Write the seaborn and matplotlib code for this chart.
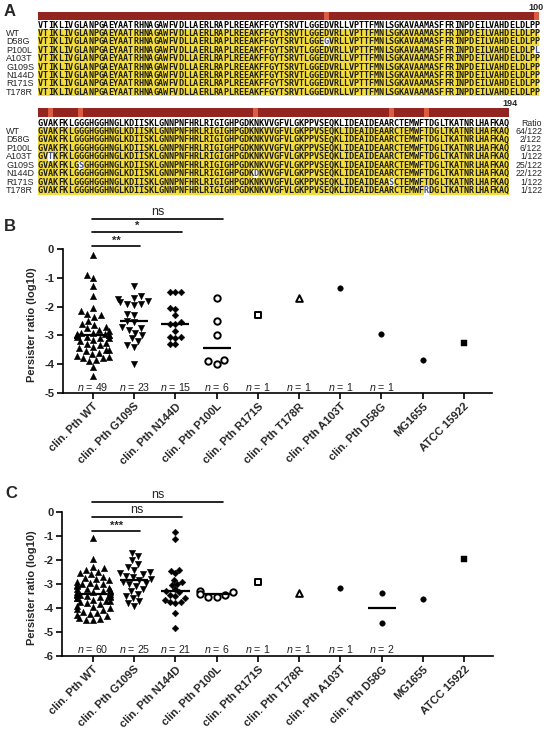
import numpy as np
import matplotlib
matplotlib.use("Agg")
import matplotlib.pyplot as plt
import seaborn as sns
from matplotlib.colors import ListedColormap, LinearSegmentedColormap

sns.set_theme(style="white")
plt.rcParams["font.family"] = ["Liberation Sans", "DejaVu Sans"]
plt.rcParams["mathtext.fontset"] = "custom"
plt.rcParams["mathtext.it"] = "Liberation Sans:italic"
plt.rcParams["mathtext.rm"] = "Liberation Sans"

# ---------------- DATA ----------------
seq_block1 = "VTIKLIVGLANPGAEYAATRHNAGAWFVDLLAERLRAPLREEAKFFGYTSRVTLGGEDVRLLVPTTFMNLSGKAVAAMASFFRINPDEILVAHDELDLPP"
seq_block2 = "GVAKFKLGGGHGGHNGLKDIISKLGNNPNFHRLRIGIGHPGDKNKVVGFVLGKPPVSEQKLIDEAIDEAARCTEMWFTDGLTKATNRLHAFKAQ"
variants = ["WT", "D58G", "P100L", "A103T", "G109S", "N144D", "R171S", "T178R"]
ratios = ["64/122", "2/122", "6/122", "1/122", "25/122", "22/122", "1/122", "1/122"]

categories = ["clin. Pth WT", "clin. Pth G109S", "clin. Pth N144D", "clin. Pth P100L",
              "clin. Pth R171S", "clin. Pth T178R", "clin. Pth A103T", "clin. Pth D58G",
              "MG1655", "ATCC 15922"]
n_labelled = 8

b_wt = [-0.2, -0.9, -1.0, -1.3, -1.65, -2.05, -2.15, -2.25, -2.3, -2.35, -2.5, -2.6,
        -2.65, -2.7, -2.75, -2.8, -2.85, -2.9, -2.9, -2.95, -2.95, -3.0, -3.0, -3.0,
        -3.0, -3.05, -3.05, -3.1, -3.1, -3.15, -3.2, -3.25, -3.3, -3.35, -3.4, -3.45,
        -3.5, -3.5, -3.55, -3.6, -3.65, -3.7, -3.75, -3.8, -3.8, -3.85, -3.9, -4.1, -4.4]
b_g109s = [-1.3, -1.65, -1.7, -1.75, -1.8, -1.85, -1.9, -1.9, -1.95, -2.25, -2.3, -2.5,
           -2.55, -2.7, -2.75, -2.8, -2.9, -3.0, -3.1, -3.2, -3.35, -3.4, -4.0]
b_n144d = [-1.5, -1.5, -1.5, -2.05, -2.1, -2.3, -2.55, -2.6, -2.6, -2.85, -3.05, -3.05,
           -3.1, -3.3, -3.3]
b_p100l = [-1.7, -2.5, -3.0, -3.85, -3.9, -4.0]
b_r171s = [-2.29]
b_t178r = [-1.7]
b_a103t = [-1.36]
b_d58g = [-2.96]
b_mg1655 = [-3.85]
b_atcc = [-3.27]
b_groups = [b_wt, b_g109s, b_n144d, b_p100l, b_r171s, b_t178r, b_a103t, b_d58g, b_mg1655, b_atcc]
b_sig_pairs = [(0, 1), (0, 2), (0, 3)]
b_sig_labels = ["**", "*", "ns"]

c_wt = [-1.1, -1.95, -2.3, -2.35, -2.4, -2.5, -2.55, -2.6, -2.7, -2.75, -2.8, -2.85,
        -2.9, -2.95, -3.0, -3.0, -3.05, -3.1, -3.1, -3.15, -3.2, -3.2, -3.25, -3.3,
        -3.3, -3.35, -3.35, -3.35, -3.4, -3.4, -3.4, -3.45, -3.45, -3.45, -3.5, -3.5,
        -3.55, -3.55, -3.6, -3.6, -3.65, -3.7, -3.7, -3.75, -3.8, -3.85, -3.9, -3.95,
        -4.0, -4.05, -4.1, -4.15, -4.2, -4.25, -4.3, -4.35, -4.4, -4.45, -4.5, -4.5]
c_g109s = [-1.7, -1.85, -2.0, -2.15, -2.3, -2.4, -2.5, -2.55, -2.6, -2.65, -2.7, -2.8,
           -2.85, -2.9, -2.95, -3.0, -3.1, -3.2, -3.3, -3.4, -3.5, -3.6, -3.7, -3.8, -3.9]
c_n144d = [-0.82, -1.12, -2.4, -2.45, -2.55, -2.85, -2.9, -3.0, -3.05, -3.2, -3.3,
           -3.35, -3.45, -3.5, -3.6, -3.65, -3.75, -3.75, -3.8, -4.2, -4.85]
c_p100l = [-3.35, -3.55, -3.3, -3.4, -3.55, -3.45]
c_r171s = [-2.9]
c_t178r = [-3.36]
c_a103t = [-3.17]
c_d58g = [-3.36, -4.61]
c_mg1655 = [-3.62]
c_atcc = [-1.96]
c_groups = [c_wt, c_g109s, c_n144d, c_p100l, c_r171s, c_t178r, c_a103t, c_d58g, c_mg1655, c_atcc]
c_sig_pairs = [(0, 1), (0, 2), (0, 3)]
c_sig_labels = ["***", "ns", "ns"]

# ---------------- STYLE / LAYOUT ----------------
W, H = 550, 733
fig = plt.figure(figsize=(5.5, 7.33), dpi=100)


def fx(x):
    return x / W


def fy(y):
    return 1 - y / H


YELLOW = "#F2DC3E"
MUT_TXT = "#46508C"
BAR_DARK = "#922520"
BAR_LIGHT = "#E8674A"
SEQ_FONT = dict(fontsize=6.1, fontweight="bold", family="DejaVu Sans Mono")


def parse_mut(name):
    if name == "WT":
        return None
    return int(name[1:-1]), name[-1]


def draw_block(seq, start, top, bottom, bar_top, bar_bot, cellw=5.01, x0=38):
    L = len(seq)
    nrows = len(variants) + 1
    mat = np.ones((nrows, L))
    mat[0, :] = 0
    annot = np.empty((nrows, L), dtype=object)
    annot[0, :] = list(seq)
    mutated = set()
    for r, v in enumerate(variants, start=1):
        letters = list(seq)
        m = parse_mut(v)
        if m is not None and start <= m[0] < start + L:
            idx = m[0] - start
            letters[idx] = m[1]
            mat[r, idx] = 0
            mutated.add((r, idx))
        annot[r, :] = letters
    ax = fig.add_axes([fx(x0), fy(bottom), L * cellw / W, (bottom - top) / H])
    sns.heatmap(mat, ax=ax, cmap=ListedColormap(["white", YELLOW]), vmin=0, vmax=1,
                cbar=False, annot=annot, fmt="", xticklabels=False, yticklabels=False,
                annot_kws=dict(color="#1c1c1c", **SEQ_FONT))
    for t in ax.texts:
        xx, yy = t.get_position()
        key = (int(yy), int(xx))
        if key[0] == 0:
            t.set_color("black")
        if key in mutated:
            t.set_color(MUT_TXT)
    ax.axis("off")
    # conservation bar
    ident = (annot[1:, :] == annot[0:1, :]).mean(axis=0)
    axb = fig.add_axes([fx(x0), fy(bar_bot), L * cellw / W, (bar_bot - bar_top) / H])
    sns.heatmap(ident.reshape(1, -1), ax=axb,
                cmap=LinearSegmentedColormap.from_list("cons", [BAR_LIGHT, BAR_DARK]),
                vmin=0.85, vmax=1.0, cbar=False, xticklabels=False, yticklabels=False)
    axb.axis("off")
    return top, (bottom - top) / nrows


# Panel A
t1, rh1 = draw_block(seq_block1, 1, 20.8, 96.4, 12.0, 19.6)
t2, rh2 = draw_block(seq_block2, 101, 118.8, 194.9, 108.3, 116.6)
for r, v in enumerate(variants, start=1):
    fig.text(fx(6), fy(t1 + (r + 0.5) * rh1), v, fontsize=6.5, va="center", ha="left")
    fig.text(fx(6), fy(t2 + (r + 0.5) * rh2), v, fontsize=6.5, va="center", ha="left")
    fig.text(fx(542), fy(t2 + (r + 0.5) * rh2), ratios[r - 1], fontsize=6.3,
             va="center", ha="right")
fig.text(fx(542), fy(t2 + 0.5 * rh2), "Ratio", fontsize=6.3, va="center", ha="right")
fig.text(fx(544), fy(7.5), str(len(seq_block1)), fontsize=6.5, fontweight="bold",
         va="center", ha="right")
fig.text(fx(510), fy(104), str(len(seq_block1) + len(seq_block2)), fontsize=6.5,
         fontweight="bold", va="center", ha="center")

fig.text(fx(4), fy(12), "A", fontsize=12, fontweight="bold", va="center", ha="left")
fig.text(fx(4), fy(226), "B", fontsize=12, fontweight="bold", va="center", ha="left")
fig.text(fx(5), fy(493), "C", fontsize=12, fontweight="bold", va="center", ha="left")

styles = [
    dict(m="^", s=4.6, fc="black", lw=0.3),
    dict(m="v", s=4.6, fc="black", lw=0.3),
    dict(m="D", s=3.4, fc="black", lw=0.3),
    dict(m="o", s=4.6, fc="white", lw=1.4),
    dict(m="s", s=4.4, fc="white", lw=1.4),
    dict(m="^", s=4.8, fc="white", lw=1.4),
    dict(m="o", s=4.0, fc="black", lw=0.3),
    dict(m="o", s=4.0, fc="black", lw=0.3),
    dict(m="o", s=4.0, fc="black", lw=0.3),
    dict(m="s", s=4.0, fc="black", lw=0.3),
]


def draw_panel(rect, groups, ylim, yticks, xlim, n_y, sig_pairs, sig_labels, sig_heights,
               ylab_xy):
    ax = fig.add_axes(rect)
    for i, (cat, vals) in enumerate(zip(categories, groups)):
        st = styles[i]
        sns.swarmplot(x=[cat] * len(vals), y=vals, order=categories, ax=ax,
                      marker=st["m"], size=st["s"], color=st["fc"], edgecolor="black",
                      linewidth=st["lw"], zorder=2, warn_thresh=1)
        if len(vals) >= 2:
            ax.hlines(np.median(vals), i - 0.34, i + 0.34, color="black", lw=1.6, zorder=3)
        if i < n_labelled:
            ax.text(i, n_y, r"$n$ = %d" % len(vals), ha="center", va="center",
                    fontsize=7.7, color="#222222")
    ax.set_xlim(*xlim)
    ax.set_ylim(*ylim)
    ax.set_yticks(yticks)
    ax.set_yticklabels([("%d" % t).replace("\u2212", "-") for t in yticks],
                       fontsize=8, fontweight="bold")
    ax.set_xticks(range(len(categories)))
    ax.set_xticklabels(categories, rotation=45, ha="right", rotation_mode="anchor",
                       fontsize=8, fontweight="bold")
    ax.set_xlabel("")
    ax.set_ylabel("Persister ratio (log10)", fontsize=8, fontweight="bold")
    ax.yaxis.set_label_coords(*ylab_xy)
    for s in ["top", "right"]:
        ax.spines[s].set_visible(False)
    for s in ["left", "bottom"]:
        ax.spines[s].set_color("black")
        ax.spines[s].set_linewidth(1.2)
    ax.spines["left"].set_bounds(yticks[-1], yticks[0])
    ax.tick_params(axis="both", direction="out", length=4, width=1.2, color="black",
                   pad=2, left=True, bottom=True)
    ax.patch.set_alpha(0)
    for (a, b), lab, h in zip(sig_pairs, sig_labels, sig_heights):
        ax.plot([a - 0.02, b + 0.15], [h, h], color="black", lw=1.2, clip_on=False)
        ax.text((a + b + 0.13) / 2, h + 0.02, lab, ha="center", va="bottom",
                fontsize=9 if lab == "ns" else 8, fontweight="normal" if lab == "ns" else "bold",
                clip_on=False)
    return ax


draw_panel([62.5 / W, 1 - 393 / H, 429.5 / W, (393 - 214.4) / H], b_groups,
           (-5, 1.2), [0, -1, -2, -3, -4, -5], (-0.74, 9.684), -4.79,
           b_sig_pairs, b_sig_labels, [0.1, 0.6, 1.04], (-0.06, 0.38))

draw_panel([62.0 / W, 1 - 656 / H, 431.0 / W, (656 - 497.6) / H], c_groups,
           (-6, 0.6), [0, -1, -2, -3, -4, -5, -6], (-0.752, 9.70), -5.7,
           c_sig_pairs, c_sig_labels, [-0.79, -0.2, 0.42], (-0.058, 0.43))

fig.savefig("out.png", dpi=100)
